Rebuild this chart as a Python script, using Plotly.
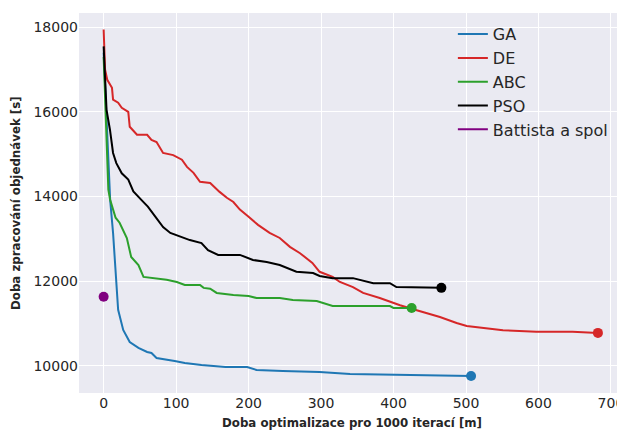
import plotly.graph_objects as go

# ---- data ----
ga_x = [0, 4, 7, 9, 13, 16, 20, 27, 36, 48, 60, 66, 73, 98, 112, 135, 168, 198, 211, 247, 298, 340, 409, 478, 507]
ga_y = [17400, 16000, 14800, 13920, 13140, 12340, 11320, 10845, 10560, 10420, 10324, 10300, 10182, 10111, 10064,
        10017, 9969, 9969, 9898, 9875, 9851, 9804, 9780, 9756, 9756]

de_x = [0, 2, 5, 11.5, 13, 20, 25, 34, 36, 46, 60, 66, 73, 82, 96, 108, 115, 124, 133, 147, 160, 170, 179, 188,
        200, 213, 229, 243, 257, 271, 288, 298, 316, 326, 344, 358, 381, 409, 432, 464, 487, 501, 551, 597, 647, 682]
de_y = [17950, 17000, 16760, 16570, 16290, 16220, 16100, 16000, 15650, 15460, 15460, 15340, 15290, 15030, 14980,
        14870, 14700, 14560, 14350, 14320, 14110, 13970, 13870, 13690, 13520, 13330, 13140, 13020, 12810, 12660,
        12430, 12220, 12100, 11980, 11860, 11720, 11600, 11430, 11310, 11150, 11010, 10940, 10840, 10800, 10800, 10775]

abc_x = [0, 3, 6.5, 9, 13, 16.5, 22, 27, 32, 38, 48, 55, 73, 87, 101, 112, 133, 138, 147, 156, 179, 200, 211, 243,
         261, 294, 316, 395, 400, 425]
abc_y = [17300, 16000, 14160, 13920, 13685, 13500, 13380, 13210, 13020, 12570, 12380, 12100, 12070, 12030, 11980,
         11910, 11910, 11840, 11820, 11720, 11670, 11650, 11600, 11600, 11555, 11530, 11410, 11410, 11366, 11366]

pso_x = [0, 2, 4, 8.7, 13, 17.5, 25, 34, 41, 52, 61, 71, 82, 92, 105, 119, 135, 144, 158, 188, 206, 225,
         243, 266, 289, 298, 316, 344, 372, 395, 404, 466]
pso_y = [17550, 16700, 16050, 15580, 15030, 14790, 14550, 14400, 14120, 13920, 13760, 13530,
         13280, 13140, 13050, 12970, 12900, 12730, 12620, 12620, 12500, 12450, 12380, 12220, 12190, 12120, 12070,
         12070, 11950, 11950, 11860, 11840]

battista_x = [0]
battista_y = [11630]

series_names = ["GA", "DE", "ABC", "PSO", "Battista a spol"]
x_tick_vals = [0, 100, 200, 300, 400, 500, 600, 700]
y_tick_vals = [10000, 12000, 14000, 16000, 18000]

colors = ["#1f77b4", "#d62728", "#2ca02c", "#000000", "#800080"]

fig = go.Figure()
series = [(ga_x, ga_y), (de_x, de_y), (abc_x, abc_y), (pso_x, pso_y)]
for (xs, ys), name, c in zip(series, series_names[:4], colors[:4]):
    fig.add_trace(go.Scatter(x=xs, y=ys, mode="lines", name=name,
                             line=dict(color=c, width=2)))
for (xs, ys), name, c in zip(series, series_names[:4], colors[:4]):
    fig.add_trace(go.Scatter(x=[xs[-1]], y=[ys[-1]], mode="markers", showlegend=False,
                             marker=dict(color=c, size=10), name=name))
# Battista: legend shows a line, plot shows a point
fig.add_trace(go.Scatter(x=[None], y=[None], mode="lines", name=series_names[4],
                         line=dict(color=colors[4], width=2)))
fig.add_trace(go.Scatter(x=battista_x, y=battista_y, mode="markers", showlegend=False,
                         marker=dict(color=colors[4], size=10), name=series_names[4]))

font_fam = "DejaVu Sans"
# the page body has an 8px default margin, so the figure is sized to fill the rest of the window
fig.update_layout(
    width=617, height=422,
    margin=dict(l=71, r=1, t=5, b=37),
    paper_bgcolor="white", plot_bgcolor="#EAEAF2",
    font=dict(family=font_fam, color="#262626", size=14),
    showlegend=True,
    legend=dict(x=0.686, y=0.989, xanchor="left", yanchor="top",
                bgcolor="rgba(0,0,0,0)", borderwidth=0,
                font=dict(size=16, color="#262626")),
    xaxis=dict(range=[-34, 718], tickvals=x_tick_vals, tickformat="d", showgrid=True, gridcolor="white",
               gridwidth=1.3, zeroline=False, showline=False, ticks="", tickfont=dict(size=14),
               automargin=False),
    yaxis=dict(range=[9354, 18340], tickvals=y_tick_vals, tickformat="d", showgrid=True, gridcolor="white",
               gridwidth=1.3, zeroline=False, showline=False, ticks="", tickfont=dict(size=14),
               automargin=False),
    annotations=[
        dict(text="<b>Doba optimalizace pro 1000 iterací [m]</b>", xref="paper", yref="paper",
             x=0.5, y=-0.079, xanchor="center", yanchor="middle", showarrow=False,
             font=dict(size=11.8, color="#262626", family=font_fam)),
        dict(text="<b>Doba zpracování objednávek [s]</b>", xref="paper", yref="paper",
             x=-0.1156, y=0.5, xanchor="center", yanchor="middle", showarrow=False, textangle=-90,
             font=dict(size=11.8, color="#262626", family=font_fam)),
    ],
)

fig.write_html("out.html")
